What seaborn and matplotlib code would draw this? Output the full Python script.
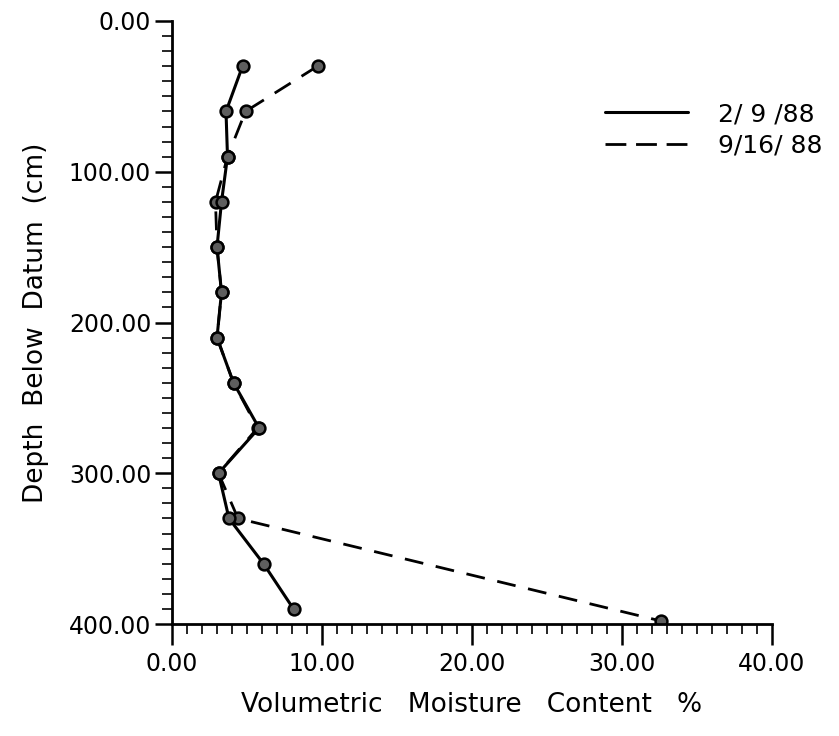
import matplotlib
matplotlib.use("Agg")
import matplotlib.pyplot as plt
from matplotlib.lines import Line2D
from matplotlib.ticker import MultipleLocator, FormatStrFormatter
import seaborn as sns
import pandas as pd

# Soil moisture profiles, depth in cm below datum, moisture in volume %
depth_feb = [30, 60, 90, 120, 150, 180, 210, 240, 270, 300, 330, 360, 390]
moist_feb = [4.7, 3.6, 3.7, 3.3, 3.0, 3.3, 3.0, 4.1, 5.8, 3.1, 3.8, 6.1, 8.1]

depth_sep = [30, 60, 90, 120, 150, 180, 210, 240, 270, 300, 330, 398]
moist_sep = [9.7, 4.9, 3.7, 2.9, 3.0, 3.3, 3.0, 4.1, 5.7, 3.1, 4.4, 32.6]

labels = ["2/ 9 /88", "9/16/ 88"]

sns.set_style("ticks")
plt.rcParams["font.family"] = ["DejaVu Sans"]

fig = plt.figure(figsize=(8.39, 7.36), dpi=100)
ax = fig.add_axes([172 / 839, 1 - 624 / 736, 600 / 839, 603 / 736])

feb = pd.DataFrame({"depth": depth_feb, "moist": moist_feb})
sep = pd.DataFrame({"depth": depth_sep, "moist": moist_sep})

marker_kw = dict(marker="o", markersize=8.5, markerfacecolor="#5e5e5e",
                 markeredgecolor="black", markeredgewidth=1.8)

sns.lineplot(data=sep, x="moist", y="depth", sort=False, estimator=None,
             color="black", linewidth=2.0, ax=ax,
             linestyle=(0, (6.8, 4.6)), **marker_kw)
sns.lineplot(data=feb, x="moist", y="depth", sort=False, estimator=None,
             color="black", linewidth=2.2, ax=ax, **marker_kw)

ax.set_xlim(0, 40)
ax.set_ylim(400, 0)

ax.xaxis.set_major_locator(MultipleLocator(10))
ax.xaxis.set_minor_locator(MultipleLocator(1))
ax.yaxis.set_major_locator(MultipleLocator(100))
ax.yaxis.set_minor_locator(MultipleLocator(10))
ax.xaxis.set_major_formatter(FormatStrFormatter("%.2f"))
ax.yaxis.set_major_formatter(FormatStrFormatter("%.2f"))

for side in ("top", "right"):
    ax.spines[side].set_visible(False)
for side in ("left", "bottom"):
    ax.spines[side].set_linewidth(2.0)
    ax.spines[side].set_color("black")

ax.tick_params(axis="x", which="major", direction="out", length=15, width=1.8,
               labelsize=17, pad=5, colors="black")
ax.tick_params(axis="x", which="minor", direction="out", length=7, width=1.4)
ax.tick_params(axis="y", which="major", direction="out", length=12, width=1.8,
               labelsize=17, pad=3, colors="black")
ax.tick_params(axis="y", which="minor", direction="out", length=7, width=1.4)

ax.set_xlabel("Volumetric   Moisture   Content   %", fontsize=19, labelpad=12,
              color="black")
ax.set_ylabel("Depth  Below  Datum  (cm)", fontsize=19, labelpad=14,
              color="black")

handles = [Line2D([], [], color="black", linewidth=2.2),
           Line2D([], [], color="black", linewidth=2.0, linestyle=(0, (7.5, 3.5)))]
fig.legend(handles, labels, loc="upper left", bbox_to_anchor=(605 / 839, 1 - 102 / 736),
           frameon=False, fontsize=18, handlelength=3.3, handletextpad=1.2,
           labelspacing=0.3, borderpad=0, borderaxespad=0, labelcolor="black")

fig.savefig("out.png", dpi=100, facecolor="white")
